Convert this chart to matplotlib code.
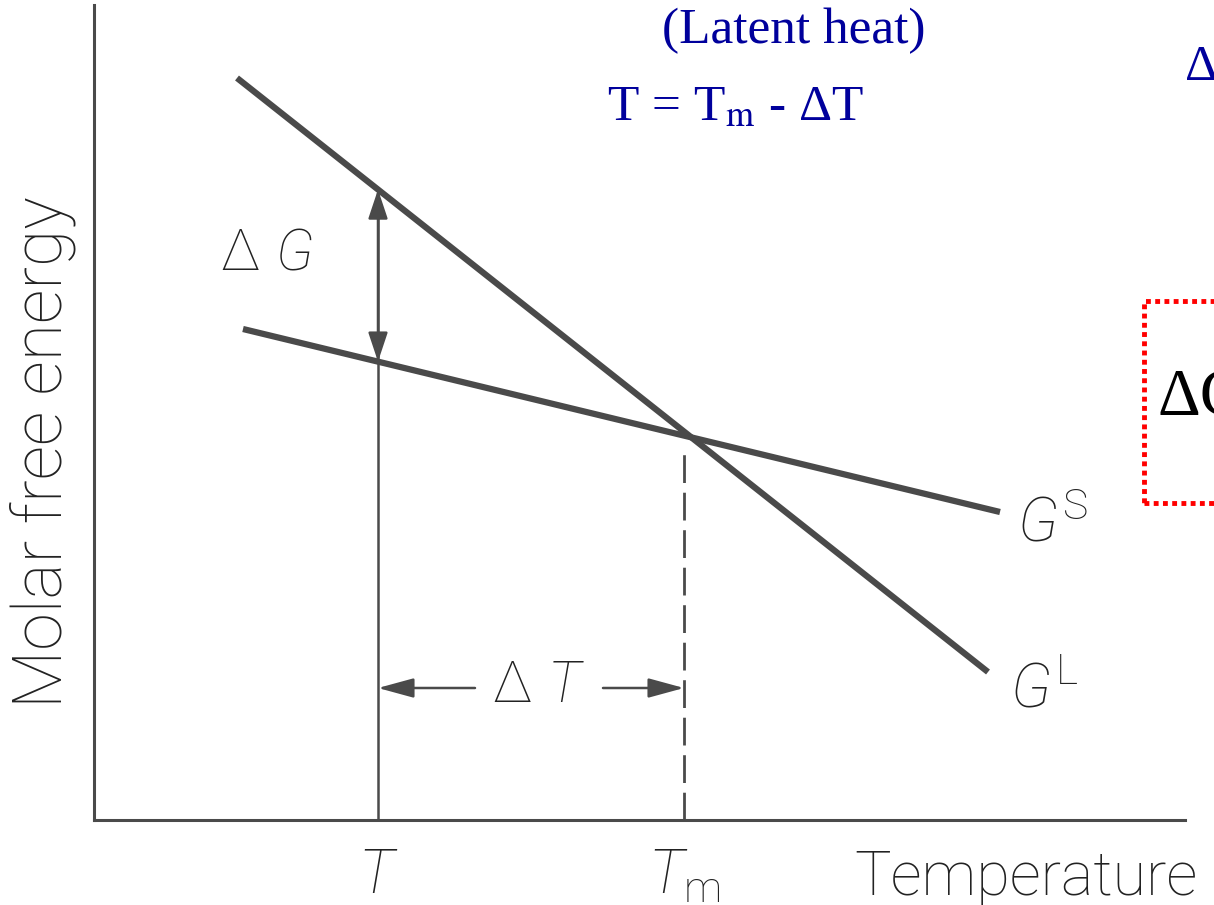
import numpy as np
import matplotlib.pyplot as plt
from matplotlib.patches import Rectangle

# positions on the temperature axis
T_under = 284
T_melt = 590

# free energy lines: (temperature, energy) end points
gl_temp = [143, 894]
gl_energy = [742, 148]
gs_temp = [149, 906]
gs_energy = [491, 308]

dashed_top = 372
dT_arrow_y = 132
dT_tails = [381, 509]

ink = '#4a4a4a'
text_ink = '#222222'
blue = '#00009c'

plt.rcParams['mathtext.fontset'] = 'custom'
plt.rcParams['mathtext.rm'] = 'Roboto:light'
plt.rcParams['mathtext.it'] = 'Roboto:italic:light'
plt.rcParams['mathtext.bf'] = 'Roboto:bold'

fig = plt.figure(figsize=(12.14, 9.05), dpi=100)
ax = fig.add_axes([94 / 1214, 85 / 905, 1091 / 1214, 815 / 905])
ax.set_xlim(0, 1091)
ax.set_ylim(0, 815)
for side in ['top', 'right']:
    ax.spines[side].set_visible(False)
for side in ['left', 'bottom']:
    ax.spines[side].set_linewidth(2.2)
    ax.spines[side].set_color(ink)
ax.set_xticks([])
ax.set_yticks([])

# liquid and solid free energy curves
ax.plot(gl_temp, gl_energy, color=ink, lw=4.5, solid_capstyle='butt')
ax.plot(gs_temp, gs_energy, color=ink, lw=4.5, solid_capstyle='butt')

gl_at_T = np.interp(T_under, gl_temp, gl_energy)
gs_at_T = np.interp(T_under, gs_temp, gs_energy)

ax.plot([T_under, T_under], [0, gl_at_T], color=ink, lw=1.8)
ax.plot([T_melt, T_melt], [0, dashed_top], color=ink, lw=2, dashes=(10, 3.5))

# driving force between the curves
ax.annotate('', xy=(T_under, gl_at_T), xytext=(T_under, gs_at_T),
            arrowprops=dict(arrowstyle='<|-|>,head_length=0.9,head_width=0.3',
                            mutation_scale=20, color=ink, lw=1.8,
                            shrinkA=0, shrinkB=0))

# undercooling arrows
for tail, head in zip(dT_tails, [T_under, T_melt]):
    ax.annotate('', xy=(head, dT_arrow_y), xytext=(tail, dT_arrow_y),
                arrowprops=dict(arrowstyle='-|>,head_length=1.1,head_width=0.3',
                                mutation_scale=20, color=ink, lw=1.8,
                                shrinkA=0, shrinkB=0))

label_kw = dict(color=text_ink, family='Roboto', fontweight='light',
                math_fontfamily='custom', clip_on=False)
ax.text(-51, 368, 'Molar free energy', rotation=90, ha='center', va='center',
        fontsize=49, **label_kw)
ax.text(126, 550, r'$\Delta\ G$', fontsize=41, ha='left', va='baseline', **label_kw)
ax.text((dT_tails[0] + dT_tails[1]) / 2, 118, r'$\Delta\ T$', fontsize=41,
        ha='center', va='baseline', **label_kw)
ax.text(923, 278, r'$G^{\mathrm{S}}$', fontsize=44, ha='left', va='baseline', **label_kw)
ax.text(916, 113, r'$G^{\mathrm{L}}$', fontsize=44, ha='left', va='baseline', **label_kw)
ax.text(T_under, -73, r'$T$', fontsize=44, ha='center', va='baseline', **label_kw)
ax.text(T_melt, -73, r'$T_{\mathrm{m}}$', fontsize=44, ha='center', va='baseline', **label_kw)
ax.text(760, -75, 'Temperature', fontsize=44, ha='left', va='baseline', **label_kw)

blue_kw = dict(color=blue, family='Liberation Serif', math_fontfamily='stix',
               clip_on=False, ha='left', va='baseline')
ax.text(568, 777, '(Latent heat)', fontsize=37, **blue_kw)
ax.text(513, 700, r'T = T$_{\mathrm{m}}$ - ΔT', fontsize=37, **blue_kw)
ax.text(1091, 740, 'Δ', fontsize=37, **blue_kw)

ax.text(1064, 405, 'ΔG', fontsize=48, color='black', family='Liberation Serif',
        ha='left', va='baseline', clip_on=False)
ax.add_patch(Rectangle((1050, 317), 220, 202, fill=False, edgecolor='red',
                       lw=3.5, linestyle=(0, (1, 0.9)), clip_on=False))

fig.savefig('out.png', dpi=100)
